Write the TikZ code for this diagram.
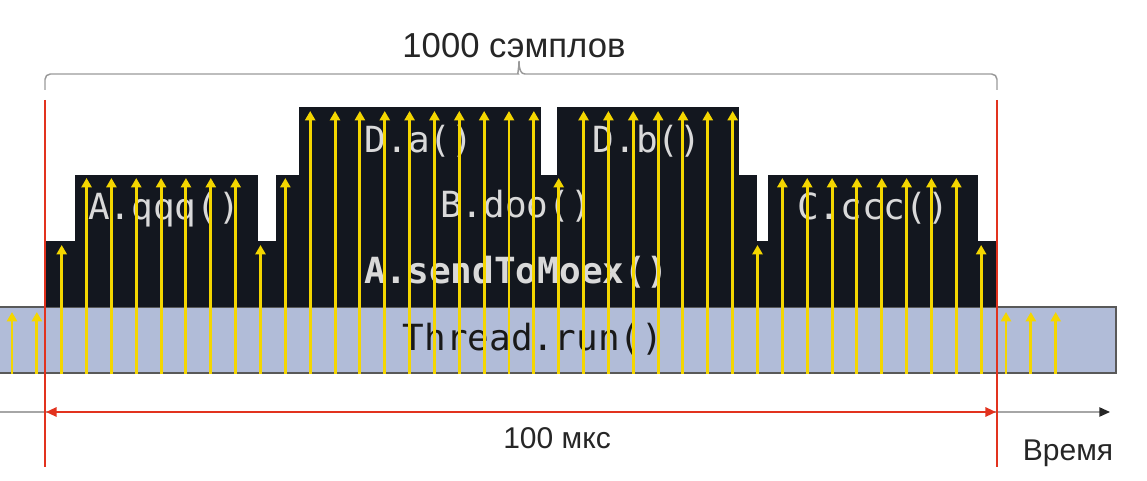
\documentclass[tikz,border=0pt]{standalone}
\usepackage{fontspec}
\setmainfont{Liberation Sans}
\setmonofont{DejaVu Sans Mono}
\usetikzlibrary{arrows.meta}

\definecolor{framecol}{HTML}{13171F}
\definecolor{threadcol}{HTML}{B1BCD8}
\definecolor{samplecol}{HTML}{F4D600}
\definecolor{markercol}{HTML}{E2321E}

\begin{document}
\begin{tikzpicture}[
    x=0.75pt, y=-0.75pt,
    frame/.style={fill=framecol},
    thread/.style={fill=threadcol, draw=black!65, line width=0.8pt},
    framelabel/.style={
        anchor=base,
        inner sep=0pt,
        text=black!15,
        font=\ttfamily\fontsize{27}{27}\selectfont
    },
    caption/.style={
        anchor=base,
        inner sep=0pt,
        text=black!85,
        font=\fontsize{26}{26}\selectfont
    },
    sample/.style={draw=samplecol, line width=2.2pt, -{Triangle[width=7.5pt,length=7pt]}},
    marker/.style={draw=markercol, line width=1.8pt},
    bracket/.style={draw=black!40, line width=1.1pt}
]
\useasboundingbox (0,0) rectangle (1147,481);

% stack of frames
\draw[thread] (-5,307) rectangle (1116,373);
\fill[frame] (45,241) rectangle (996,307);
\fill[frame] (75,175) rectangle (258,241);
\fill[frame] (276,175) rectangle (757,241);
\fill[frame] (299,107) rectangle (541,175);
\fill[frame] (557,107) rectangle (739,175);
\fill[frame] (768,175) rectangle (978,241);

\node[framelabel, text=black!90] (run) at (533,350) {Thread.run()};
\node[framelabel, font=\ttfamily\bfseries\fontsize{27}{27}\selectfont] (send) at (516,283) {A.sendToMoex()};
\node[framelabel] (qqq) at (164,220) {A.qqq()};
\node[framelabel] (doo) at (516,218) {B.doo()};
\node[framelabel] (ccc) at (873,220) {C.ccc()};
\node[framelabel] (da) at (419,153) {D.a()};
\node[framelabel] (db) at (647,153) {D.b()};

% samples, one per tick, value = stack depth
\foreach \lv [count=\i from 0] in {0,0,1,2,2,2,2,2,2,2,1,2,3,3,3,3,3,3,3,3,3,3,2,3,3,3,3,3,3,3,1,2,2,2,2,2,2,2,2,1,0,0,0}
    \draw[sample] ({12+24.85*\i},374) -- ({12+24.85*\i},{312-67*\lv});

% time axis
\coordinate (t0) at (0,412);
\coordinate (t1) at (1110,412);
\draw[draw=black!35, line width=1.1pt, -{Triangle[width=7pt,length=8pt,color=black!85]}] (t0) -- (t1);
\node[caption, font=\fontsize{22.5}{22.5}\selectfont] (time) at (1068,460) {Время};

% measured interval
\coordinate (startTop) at (45,100);
\coordinate (startBot) at (45,467);
\coordinate (endTop) at (997,100);
\coordinate (endBot) at (997,467);
\draw[marker] (startTop) -- (startBot);
\draw[marker] (endTop) -- (endBot);
\draw[marker, line width=1.6pt, {Triangle[width=7pt,length=8pt]}-{Triangle[width=7pt,length=8pt]}] (46,412) -- (996,412);
\node[caption, font=\fontsize{22.5}{22.5}\selectfont] (dur) at (557,448) {100 мкс};

% bracket over the samples
\draw[bracket] (45,90) [rounded corners=4pt] |- (513,74) [sharp corners]
    .. controls (517,74) and (519,70) .. (519,61)
    .. controls (519,70) and (521,74) .. (525,74) [rounded corners=4pt] -| (997,90);
\node[caption] (count) at (514,58) {1000 сэмплов};

\end{tikzpicture}
\end{document}
